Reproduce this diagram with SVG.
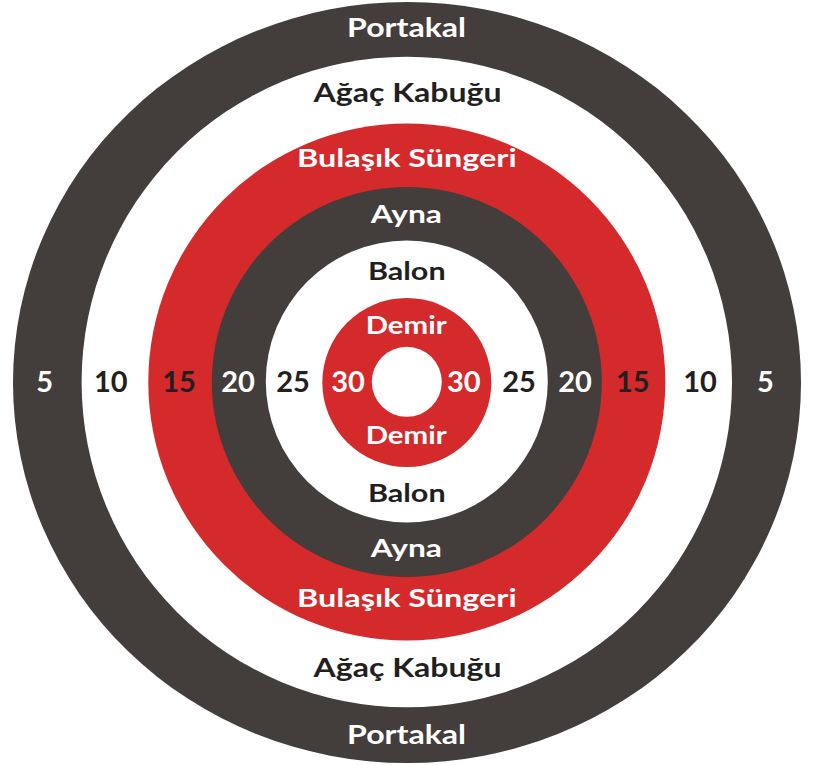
<svg xmlns="http://www.w3.org/2000/svg" width="814" height="765" viewBox="0 0 814 765">
<style>
.dk{fill:#433d3b}
.rd{fill:#d42a2c}
.wh{fill:#ffffff}
text{font-family:Lato,"Liberation Sans",sans-serif;font-weight:700;text-anchor:middle}
.tw{fill:#ffffff}
.tb{fill:#231f20}
.num{font-size:29px}
</style>
<rect width="814" height="765" fill="#ffffff"/>
<g id="rings">
<ellipse class="dk" cx="407" cy="382.5" rx="394" ry="380.5"/>
<circle class="wh" cx="406.8" cy="382" r="325.2"/>
<circle class="rd" cx="406.8" cy="382" r="258.5"/>
<circle class="dk" cx="406.8" cy="382" r="195"/>
<circle class="wh" cx="406.8" cy="381.5" r="141"/>
<circle class="rd" cx="406.8" cy="382.5" r="84.5"/>
<circle class="wh" cx="406.8" cy="381.8" r="35"/>
</g>
<g id="labels-top">
<text class="tw" x="406.6" y="36.7" font-size="27" textLength="119" lengthAdjust="spacingAndGlyphs">Portakal</text>
<text class="tb" x="407.5" y="101.7" font-size="26" textLength="188" lengthAdjust="spacingAndGlyphs">Ağaç Kabuğu</text>
<text class="tw" x="406.8" y="167.3" font-size="24" textLength="219.7" lengthAdjust="spacingAndGlyphs">Bulaşık Süngeri</text>
<text class="tw" x="406.3" y="222.7" font-size="25.5" textLength="71.3" lengthAdjust="spacingAndGlyphs">Ayna</text>
<text class="tb" x="406.8" y="280" font-size="25.5" textLength="77.7" lengthAdjust="spacingAndGlyphs">Balon</text>
<text class="tw" x="406.2" y="334.3" font-size="25.5" textLength="81" lengthAdjust="spacingAndGlyphs">Demir</text>
</g>
<g id="labels-bottom">
<text class="tw" x="406.2" y="444" font-size="25.5" textLength="81" lengthAdjust="spacingAndGlyphs">Demir</text>
<text class="tb" x="406.8" y="502.3" font-size="25.5" textLength="77.7" lengthAdjust="spacingAndGlyphs">Balon</text>
<text class="tw" x="406.3" y="557.3" font-size="25.5" textLength="71.3" lengthAdjust="spacingAndGlyphs">Ayna</text>
<text class="tw" x="406.8" y="607.3" font-size="24" textLength="219.7" lengthAdjust="spacingAndGlyphs">Bulaşık Süngeri</text>
<text class="tb" x="407.5" y="677.3" font-size="26" textLength="188" lengthAdjust="spacingAndGlyphs">Ağaç Kabuğu</text>
<text class="tw" x="406.6" y="744.3" font-size="27" textLength="119" lengthAdjust="spacingAndGlyphs">Portakal</text>
</g>
<g id="scores">
<text class="tw num" x="44.7" y="391.5">5</text>
<text class="tb num" x="110.7" y="391.5">10</text>
<text class="tb num" x="179" y="391.5">15</text>
<text class="tw num" x="238" y="391.5">20</text>
<text class="tb num" x="293" y="391.5">25</text>
<text class="tw num" x="348" y="391.5">30</text>
<text class="tw num" x="463.8" y="391.5">30</text>
<text class="tb num" x="519" y="391.5">25</text>
<text class="tw num" x="575" y="391.5">20</text>
<text class="tb num" x="632.7" y="391.5">15</text>
<text class="tb num" x="700" y="391.5">10</text>
<text class="tw num" x="765.4" y="391.5">5</text>
</g>
</svg>
